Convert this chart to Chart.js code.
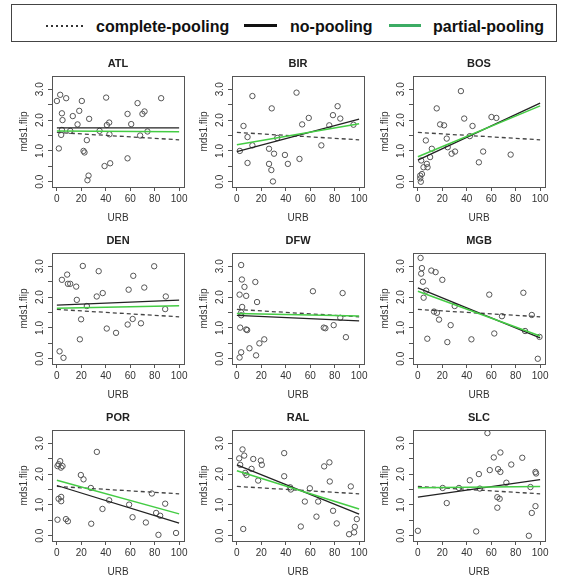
<!DOCTYPE html>
<html>
<head>
<meta charset="utf-8">
<script src="https://cdn.jsdelivr.net/npm/chart.js@4.4.1/dist/chart.umd.min.js"></script>
<style>
  body { margin: 0; background: #fff; width: 568px; height: 581px; position: relative; overflow: hidden;
         font-family: "Liberation Sans", Arial, sans-serif; }
  #legend { position: absolute; left: 11px; top: 4px; width: 546px; height: 38px; border: 1px solid #444; box-sizing: border-box; }
  .key { position: absolute; font-weight: bold; font-size: 16px; color: #111; line-height: 18px; top: 13px; }
  .swatch { position: absolute; top: 20px; }
  canvas { position: absolute; }
</style>
</head>
<body>
<div id="legend">
  <div class="swatch" style="left:34px;width:38px;height:2px;background:repeating-linear-gradient(to right,#333 0 2px,transparent 2px 5px);"></div>
  <div class="key" style="left:84px;">complete-pooling</div>
  <div class="swatch" style="left:232px;width:33px;height:3px;top:19px;background:#111;"></div>
  <div class="key" style="left:278px;">no-pooling</div>
  <div class="swatch" style="left:377px;width:32px;height:3px;top:19px;background:#3cac64;"></div>
  <div class="key" style="left:421px;">partial-pooling</div>
</div>
<script>
// stations, one panel each
const stations = ['ATL', 'BIR', 'BOS', 'DEN', 'DFW', 'MGB', 'POR', 'RAL', 'SLC'];

// observed URB / mds1.flip per station
const atlUrb = [0, 2.7, 7.6, 1.6, 4.1, 4.6, 4.1, 3.5, 10.9, 13, 16.9, 18.3, 20.4, 21.8, 22.6, 24.5, 26.4, 25.9, 25, 34.9, 40.3, 40.9, 42.8, 43, 39, 43.6, 57.8, 57.8, 60.8, 66, 68.1, 70, 71.7, 74.1, 85.3];
const atlMds = [2.62, 2.82, 2.71, 1.08, 2.22, 2.00, 1.68, 1.52, 1.65, 2.13, 1.86, 2.30, 2.62, 1.00, 0.95, 1.35, 2.04, 0.20, 0.05, 1.65, 2.73, 1.84, 1.92, 1.54, 0.51, 0.60, 0.76, 2.20, 1.87, 2.55, 1.50, 2.20, 2.28, 1.63, 2.71];

const birUrb = [2.4, 5.4, 8.7, 8.7, 12.7, 12.7, 28.5, 26.3, 26.3, 30.4, 28.2, 29.5, 33, 39.3, 41.7, 48.8, 51.2, 53.4, 58.8, 69.1, 75.6, 78.6, 82.4, 84.6, 95.4];
const birMds = [1.00, 1.81, 1.45, 0.61, 2.78, 1.18, 2.38, 1.07, 0.58, 0.91, 0.38, 0.01, 1.42, 0.87, 0.58, 2.89, 0.74, 1.86, 2.07, 1.18, 1.83, 2.16, 2.45, 2.05, 1.85];

const bosUrb = [2.4, 1.9, 3.3, 1.9, 2.7, 4.6, 7.3, 7.9, 6.5, 10, 11.4, 15.4, 18.2, 21.4, 23.6, 24.4, 27.6, 30.4, 35.2, 37.9, 42.5, 44.7, 49.9, 53.4, 60.2, 64.2, 75.9];
const bosMds = [0.00, 0.11, 0.25, 0.20, 0.69, 0.47, 0.58, 0.47, 1.34, 0.80, 1.07, 2.38, 1.86, 1.83, 1.40, 1.12, 0.91, 0.98, 2.94, 2.05, 1.48, 1.81, 0.63, 0.98, 2.10, 2.07, 0.88];

const denUrb = [2.2, 5.4, 4.1, 8.4, 9, 10.9, 15.8, 16.3, 19.8, 18.8, 21.2, 24.5, 32.6, 34.2, 37.5, 40.8, 48.4, 58.7, 57.9, 62, 62.5, 68.8, 71.5, 79.6, 89.1, 88.6];
const denMds = [0.24, 0.03, 2.56, 2.73, 2.43, 2.43, 2.34, 1.91, 1.28, 0.63, 3.01, 1.71, 2.02, 2.84, 2.13, 0.98, 0.84, 2.24, 1.11, 1.29, 2.69, 1.15, 2.31, 3.00, 2.02, 1.61];

const dfwUrb = [3.5, 4.1, 6.2, 2.2, 7.6, 4.3, 3.5, 3.5, 2.7, 7.6, 8.4, 3.5, 2.2, 10.3, 15.1, 16.5, 15.7, 18.4, 22.4, 62.2, 71.1, 72.4, 79.2, 84.6, 86.5, 89.2];
const dfwMds = [3.04, 2.57, 2.33, 2.08, 2.04, 1.68, 1.50, 1.41, 1.01, 0.95, 0.93, 0.21, 0.04, 0.34, 2.49, 1.84, 0.11, 0.50, 0.63, 2.19, 1.01, 0.99, 1.09, 1.33, 2.13, 0.70];

const mgbUrb = [2.2, 2.7, 3.3, 4.1, 4.7, 6.8, 7.7, 11, 14.5, 13.2, 15.6, 17.3, 20, 26.8, 24.1, 30.1, 43.8, 58.4, 62.5, 68.8, 86.3, 87.7, 93.2, 98.1, 99.5];
const mgbMds = [3.27, 2.76, 2.94, 2.50, 1.98, 2.21, 0.65, 2.86, 2.81, 1.53, 1.49, 1.27, 2.56, 1.09, 0.54, 1.71, 0.63, 2.08, 0.82, 1.38, 2.14, 0.90, 1.42, 0.00, 0.71];

const porUrb = [0.5, 1.4, 2.7, 3.3, 4.6, 0.5, 1.4, 3.5, 3.5, 7.4, 9, 19.6, 21.8, 27.8, 28.1, 32.7, 37.3, 42.8, 59.1, 61.9, 72.8, 77.7, 81.2, 84.5, 83.1, 88.6, 97.5];
const porMds = [2.26, 2.32, 2.42, 2.21, 2.26, 0.52, 1.20, 1.26, 1.12, 0.54, 0.47, 1.97, 1.83, 1.55, 0.39, 2.72, 0.87, 1.15, 1.01, 0.60, 0.43, 1.37, 0.74, 0.65, 0.03, 1.04, 0.09];

const ralUrb = [1.9, 2.7, 4.6, 6, 5.2, 6.8, 7.9, 12, 13.4, 17.4, 19.6, 20.4, 38.7, 38.7, 43.6, 44.1, 52.3, 55.6, 59.7, 65.1, 66.5, 71.4, 75.7, 76, 78.7, 81.7, 93.2, 91.8, 95.9, 96.5, 98.1];
const ralMds = [2.51, 2.30, 2.80, 2.60, 0.22, 2.04, 1.97, 2.17, 2.49, 1.79, 2.44, 2.30, 2.68, 1.93, 1.57, 1.50, 0.30, 1.11, 1.54, 0.62, 1.11, 2.25, 2.38, 1.76, 0.81, 0.40, 1.60, 0.05, 0.11, 0.29, 0.54];

const slcUrb = [0, 20.3, 23.6, 33.6, 42.5, 47.7, 49.9, 50.7, 56.9, 58.8, 62.1, 65, 65, 65.6, 66.9, 67.5, 67.5, 72.4, 76.4, 85.4, 90.8, 92.1, 93.2, 96.2, 96.2, 96.7];
const slcMds = [0.16, 1.55, 1.06, 1.55, 1.80, 0.14, 2.00, 1.53, 3.33, 2.13, 2.54, 1.25, 0.91, 2.16, 1.20, 2.07, 2.70, 1.72, 2.31, 2.53, 0.00, 1.58, 0.74, 0.96, 2.07, 2.02];

// fitted lines: value at URB = 0 and at URB = 100, in station order
const completeFit = [1.60, 1.36];
const noPoolStart = [1.75, 0.98, 0.70, 1.74, 1.41, 2.30, 1.63, 2.30, 1.25];
const noPoolEnd = [1.75, 2.03, 2.55, 1.90, 1.23, 0.68, 0.41, 0.70, 1.82];
const partialStart = [1.65, 1.20, 0.81, 1.64, 1.47, 2.19, 1.80, 2.11, 1.56];
const partialEnd = [1.62, 1.88, 2.46, 1.72, 1.39, 0.74, 0.71, 0.87, 1.60];

// axis ticks
const urbTicks = [0, 20, 40, 60, 80, 100];
const mdsTicks = [0, 0.5, 1, 1.5, 2, 2.5, 3];

const urbData = [atlUrb, birUrb, bosUrb, denUrb, dfwUrb, mgbUrb, porUrb, ralUrb, slcUrb];
const mdsData = [atlMds, birMds, bosMds, denMds, dfwMds, mgbMds, porMds, ralMds, slcMds];

Chart.defaults.font.family = '"Liberation Sans", Arial, sans-serif';

// plot-region frame like R's box()
const plotBox = {
  id: 'plotBox',
  afterDraw(chart) {
    const a = chart.chartArea, ctx = chart.ctx;
    ctx.save();
    ctx.strokeStyle = '#555';
    ctx.lineWidth = 1;
    ctx.strokeRect(Math.round(a.left) + 0.5, Math.round(a.top) + 0.5, Math.round(a.width), Math.round(a.height));
    ctx.restore();
  }
};

const colLeft = [52, 232, 413];
const rowTop = [76, 253, 430];

function line(y0, y1) {
  return [{ x: 0, y: y0 }, { x: 100, y: y1 }];
}

stations.forEach((name, i) => {
  const cv = document.createElement('canvas');
  cv.width = 185;
  cv.height = 180;
  cv.style.left = (colLeft[i % 3] - 45) + 'px';
  cv.style.top = (rowTop[Math.floor(i / 3)] - 30) + 'px';
  document.body.appendChild(cv);

  const pts = urbData[i].map((u, k) => ({ x: u, y: mdsData[i][k] }));

  new Chart(cv, {
    type: 'scatter',
    data: {
      datasets: [
        { data: pts, pointStyle: 'circle', pointRadius: 2.7, borderColor: '#555', backgroundColor: 'rgba(0,0,0,0)', borderWidth: 1, order: 4 },
        { data: line(completeFit[0], completeFit[1]), showLine: true, pointRadius: 0, borderColor: '#444', borderWidth: 1.3, borderDash: [4, 3], order: 3 },
        { data: line(noPoolStart[i], noPoolEnd[i]), showLine: true, pointRadius: 0, borderColor: '#222', borderWidth: 1.3, order: 2 },
        { data: line(partialStart[i], partialEnd[i]), showLine: true, pointRadius: 0, borderColor: '#44cc44', borderWidth: 1.5, order: 1 }
      ]
    },
    options: {
      responsive: false,
      animation: false,
      layout: { padding: { left: 0, right: 8, top: 0, bottom: 0 } },
      plugins: {
        legend: { display: false },
        tooltip: { enabled: false },
        title: {
          display: true, text: name, fullSize: false, color: '#222',
          font: { size: 11, weight: 'bold', lineHeight: 1.2 },
          padding: { top: 10.9, bottom: 5.9 }
        }
      },
      scales: {
        x: {
          type: 'linear', min: -4, max: 104,
          afterBuildTicks: s => { s.ticks = urbTicks.map(v => ({ value: v })); },
          afterFit: s => { s.height = 39; },
          grid: { drawOnChartArea: false, tickLength: 4, color: '#555' },
          border: { display: false },
          ticks: { font: { size: 10 }, color: '#333', padding: 2, maxRotation: 0, autoSkip: false },
          title: { display: true, text: 'URB', color: '#333', font: { size: 10 }, padding: { top: 0, bottom: 2 } }
        },
        y: {
          type: 'linear', min: -0.17, max: 3.43,
          afterBuildTicks: s => { s.ticks = mdsTicks.map(v => ({ value: v })); },
          afterFit: s => { s.width = 45; },
          grid: { drawOnChartArea: false, tickLength: 4, color: '#555' },
          border: { display: false },
          ticks: {
            font: { size: 10 }, color: '#333', padding: 0.5, minRotation: 90, maxRotation: 90,
            crossAlign: 'center', autoSkip: false,
            callback: v => (v % 1 === 0 ? v.toFixed(1) : '')
          },
          title: { display: true, text: 'mds1.flip', color: '#333', font: { size: 10 }, padding: { top: 11, bottom: 0 } }
        }
      }
    },
    plugins: [plotBox]
  });
});
</script>
</body>
</html>
